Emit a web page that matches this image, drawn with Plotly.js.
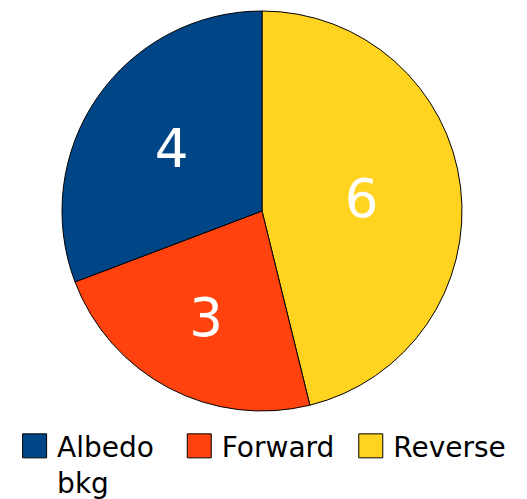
<!DOCTYPE html>
<html><head><meta charset="utf-8">
<script src="https://cdn.plot.ly/plotly-3.0.1.min.js"></script>
<style>html,body{margin:0;padding:0;background:#fff}</style>
</head><body>
<div id="chart" style="width:527px;height:499px"></div>
<script>
const labels = ["Reverse", "Forward\u00a0", "Albedo\u00a0\u00a0<br>bkg"];
const values = [6, 3, 4];
const colors = ["#ffd320", "#ff420e", "#004586"];

const W = 527, H = 499;
Plotly.newPlot("chart", [{
  type: "pie",
  labels: labels,
  values: values,
  sort: false,
  direction: "clockwise",
  rotation: 0,
  textinfo: "value",
  textposition: "inside",
  insidetextorientation: "horizontal",
  insidetextfont: {color: "#ffffff", size: 53, family: "DejaVu Sans"},
  marker: {colors: colors, line: {color: "#000000", width: 1}},
  domain: {x: [62/W, 462/W], y: [(H-411)/H, (H-11)/H]},
  hoverinfo: "none"
}], {
  width: W, height: H,
  margin: {l: 0, r: 0, t: 0, b: 0, autoexpand: false},
  paper_bgcolor: "#ffffff",
  showlegend: true,
  legend: {orientation: "h", x: 0.023, y: 0.156, xanchor: "left", yanchor: "top", itemwidth: 35,
    font: {family: "DejaVu Sans", size: 28, color: "#000000"}, valign: "top", traceorder: "reversed"},
  font: {family: "DejaVu Sans"}
}, {displayModeBar: false}).then(function(gd){
  gd.querySelectorAll(".legend .legendpoints path").forEach(function(p){
    const t = p.getAttribute("transform") || "";
    p.setAttribute("transform", t + " scale(2)");
    p.style.strokeWidth = "0.5px";
  });
});
</script>
</body></html>
